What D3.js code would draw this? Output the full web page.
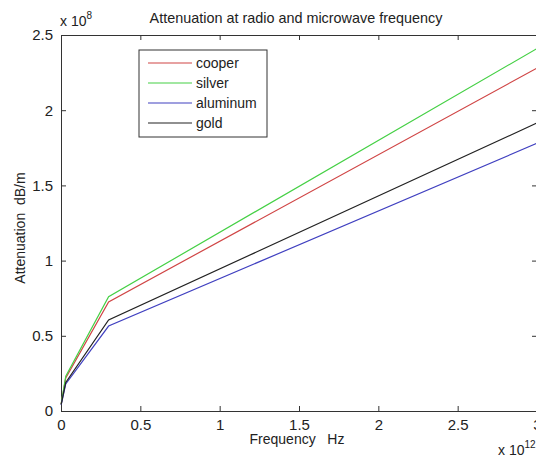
<!DOCTYPE html>
<html>
<head>
<meta charset="utf-8">
<script src="https://cdn.jsdelivr.net/npm/d3@7"></script>
<style>
	body { margin: 0; background: #fff; }
	svg { display: block; font-family: "Liberation Sans", Arial, sans-serif; }
</style>
</head>
<body>
<svg id="chart" width="536" height="457"></svg>
<script>
// frequency in units of 1e12 Hz, attenuation in units of 1e8 dB/m
const freq = [0.001, 0.03, 0.3, 3];
const cooper = [0.046, 0.22, 0.725, 2.28];
const silver = [0.048, 0.232, 0.76, 2.41];
const aluminum = [0.04, 0.18, 0.565, 1.78];
const gold = [0.042, 0.19, 0.605, 1.915];
const names = ['cooper', 'silver', 'aluminum', 'gold'];
const xTicks = [0, 0.5, 1, 1.5, 2, 2.5, 3];
const yTicks = [0, 0.5, 1, 1.5, 2, 2.5];

const padLeft = 61, padRight = 537, padTop = 35, padBottom = 411;
const colors = ['#d04545', '#45d045', '#4040c0', '#222'];
const series = [cooper, silver, aluminum, gold];

const svg = d3.select('#chart');

const xScale = d3.scaleLinear()
	.domain([0, 3])
	.range([padLeft, padRight]);
const yScale = d3.scaleLinear()
	.domain([0, 2.5])
	.range([padBottom, padTop]);

const xAxis = d3.axisBottom(xScale)
	.tickValues(xTicks)
	.tickSizeInner(-5)
	.tickSizeOuter(0)
	.tickPadding(8)
	.tickFormat(d3.format('~g'));
const yAxis = d3.axisLeft(yScale)
	.tickValues(yTicks)
	.tickSizeInner(-5)
	.tickSizeOuter(0)
	.tickPadding(8)
	.tickFormat(d3.format('~g'));

// top and right ticks, no labels
svg.append('g')
	.attr('transform', 'translate(0,' + padTop + ')')
	.call(d3.axisTop(xScale).tickValues(xTicks).tickSizeInner(-5).tickSizeOuter(0).tickFormat(''));
svg.append('g')
	.attr('transform', 'translate(' + padRight + ',0)')
	.call(d3.axisRight(yScale).tickValues(yTicks).tickSizeInner(-5).tickSizeOuter(0).tickFormat(''));

svg.append('g')
	.attr('transform', 'translate(0,' + padBottom + ')')
	.call(xAxis);
svg.append('g')
	.attr('transform', 'translate(' + padLeft + ',0)')
	.call(yAxis);

svg.selectAll('.domain, .tick line').attr('stroke', '#333');
svg.selectAll('.tick text')
	.attr('fill', '#222')
	.style('font-size', '15px');

const line = d3.line()
	.x((d, i) => xScale(freq[i]))
	.y(d => yScale(d));

svg.selectAll('path.series')
	.data(series)
	.enter()
	.append('path')
	.attr('class', 'series')
	.attr('d', line)
	.attr('fill', 'none')
	.attr('stroke', (d, i) => colors[i])
	.attr('stroke-width', 1.2);

// legend
const legend = svg.append('g')
	.attr('transform', 'translate(139,50)');
legend.append('rect')
	.attr('width', 128)
	.attr('height', 87)
	.attr('fill', '#fff')
	.attr('stroke', '#333');
const items = legend.selectAll('g.item')
	.data(names)
	.enter()
	.append('g')
	.attr('class', 'item')
	.attr('transform', (d, i) => 'translate(0,' + (13 + 20 * i) + ')');
items.append('line')
	.attr('x1', 9)
	.attr('x2', 53)
	.attr('stroke', (d, i) => colors[i])
	.attr('stroke-width', 1.2);
items.append('text')
	.attr('x', 57)
	.attr('dy', '0.35em')
	.style('font-size', '14px')
	.attr('fill', '#222')
	.text(d => d);

// title and labels
svg.append('text')
	.attr('x', 296)
	.attr('y', 23)
	.attr('text-anchor', 'middle')
	.style('font-size', '14.4px')
	.attr('fill', '#222')
	.text('Attenuation at radio and microwave frequency');

svg.append('text')
	.attr('x', 297)
	.attr('y', 444)
	.attr('text-anchor', 'middle')
	.style('font-size', '14px')
	.attr('fill', '#222')
	.text('Frequency\u00a0\u00a0\u00a0Hz');

svg.append('text')
	.attr('transform', 'translate(25,228) rotate(-90)')
	.attr('text-anchor', 'middle')
	.style('font-size', '14px')
	.attr('fill', '#222')
	.text('Attenuation\u00a0\u00a0dB/m');

const exp8 = svg.append('text')
	.attr('x', 60)
	.attr('y', 26)
	.style('font-size', '14px')
	.attr('fill', '#222');
exp8.append('tspan').text('x 10');
exp8.append('tspan').attr('dy', -7).style('font-size', '10px').text('8');

const exp12 = svg.append('text')
	.attr('x', 498)
	.attr('y', 455)
	.style('font-size', '14px')
	.attr('fill', '#222');
exp12.append('tspan').text('x 10');
exp12.append('tspan').attr('dy', -7).style('font-size', '10px').text('12');
</script>
</body>
</html>
